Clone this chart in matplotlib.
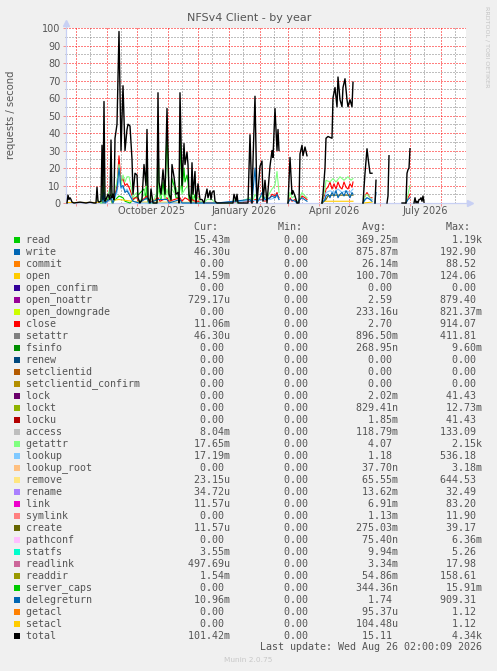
import numpy as np
import pandas as pd
import matplotlib
matplotlib.use("Agg")
import matplotlib.pyplot as plt
from matplotlib.patches import Rectangle

# ------------------------------------------------------------
# time window (munin year graph: 400 days ending at last update)
# ------------------------------------------------------------
START = pd.Timestamp("2025-07-22")
END = pd.Timestamp("2026-08-26")
nan = np.nan

# ------------------------------------------------------------
# legend table
# ------------------------------------------------------------
names = ["read", "write", "commit", "open", "open_confirm", "open_noattr",
         "open_downgrade", "close", "setattr", "fsinfo", "renew", "setclientid",
         "setclientid_confirm", "lock", "lockt", "locku", "access", "getattr",
         "lookup", "lookup_root", "remove", "rename", "link", "symlink", "create",
         "pathconf", "statfs", "readlink", "readdir", "server_caps",
         "delegreturn", "getacl", "setacl", "total"]
colors = ["#00CC00", "#0066B3", "#FF8000", "#FFCC00", "#330099", "#990099",
          "#CCFF00", "#FF0000", "#808080", "#008F00", "#00487D", "#B35A00",
          "#B38F00", "#6B006B", "#8FB300", "#B30000", "#BEBEBE", "#80FF80",
          "#80C9FF", "#FFC080", "#FFE680", "#AA80FF", "#EE00CC", "#FF8080",
          "#666600", "#FFBFFF", "#00FFCC", "#CC6699", "#999900", "#00CC00",
          "#0066B3", "#FF8000", "#FFCC00", "#000000"]
cur = ["15.43m", "46.30u", "0.00", "14.59m", "0.00", "729.17u", "0.00", "11.06m",
       "46.30u", "0.00", "0.00", "0.00", "0.00", "0.00", "0.00", "0.00", "8.04m",
       "17.65m", "17.19m", "0.00", "23.15u", "34.72u", "11.57u", "0.00", "11.57u",
       "0.00", "3.55m", "497.69u", "1.54m", "0.00", "10.96m", "0.00", "0.00",
       "101.42m"]
mins = ["0.00"] * 34
avgs = ["369.25m", "875.87m", "26.14m", "100.70m", "0.00", "2.59", "233.16u",
        "2.70", "896.50m", "268.95n", "0.00", "0.00", "0.00", "2.02m", "829.41n",
        "1.85m", "118.79m", "4.07", "1.18", "37.70n", "65.55m", "13.62m", "6.91m",
        "1.13m", "275.03m", "75.40n", "9.94m", "3.34m", "54.86m", "344.36n",
        "1.74", "95.37u", "104.48u", "15.11"]
maxs = ["1.19k", "192.90", "88.52", "124.06", "0.00", "879.40", "821.37m",
        "914.07", "411.81", "9.60m", "0.00", "0.00", "0.00", "41.43", "12.73m",
        "41.43", "133.09", "2.15k", "536.18", "3.18m", "644.53", "32.49", "83.20",
        "11.90", "39.17", "6.36m", "5.26", "17.98", "158.61", "15.91m", "909.31",
        "1.12", "1.12", "4.34k"]

# ------------------------------------------------------------
# series (day = days since START, nan = no data)
# ------------------------------------------------------------
read_day = [35, 36, 37, 38, 39, 45, 46, 53, 57, 59, 64, 78, 80, 81, 82, 91, 92, 93,
            95, 97, 99, 101, 103, 105, 106, 108, 110, 112, 113, 114, 116, 118, 119,
            121, 122, 123, 125, 126, 127, 129, 130, 134]
read_val = [0, 8, 0, 12, 0, 5, 0, 4, 3, 1, 0, 8, 2, 20, 0, 0, 40, 8,
            2, 12, 2, 42, 3, 1, 14, 10, 3, 3, 0, 38, 6, 20, 12,
            16, 12, 2, 0, 8, 1, 5, 0, 0]

open_day = [1, 30, 53, 73, 151, 152, 256, 258, 287, 288, 297, 306, 307]
open_val = [0.3, 0.3, 2, 0.5, 0.3, nan, 0, 1, 1, nan, 0, 0.5, nan]

close_day = [38, 39, 45, 47, 49, 51, 53, 55, 57, 59, 61, 63, 65, 67, 69, 71, 73,
             81, 83, 92, 94, 101, 103, 114, 116, 119, 122, 124, 126, 129, 132, 138,
             151, 184, 186, 189, 196, 199, 204, 206, 209, 211, 212, 213, 214,
             222, 224, 226, 229, 231, 234, 236, 239, 241, 242,
             256, 257, 259, 260, 262, 264, 266, 268, 270, 272, 274, 276, 278, 280,
             282, 284, 286, 287, 288, 297, 299, 301, 304, 306, 307, 340, 342, 344, 345]
close_val = [6, 0, 3, 0, 5, 10, 27, 12, 14, 10, 11, 9, 6, 2, 3, 3, 0,
             4, 0, 3, 1, 3, 1, 3, 1, 3, 2, 1, 2, 1, 1, 0,
             0, 1, 0, 2, 2, 1, 3, 5, 4, 6, 4, 3, nan,
             0, 3, 1, 2, 0, 2, 4, 3, 2, nan,
             0, 2, 5, 8, 9, 12, 8, 11, 8, 12, 9, 8, 12, 9,
             8, 11, 9, 12, nan, 0, 4, 6, 3, 3, nan, 0, 3, 5, nan]

getattr_day = [31, 35, 36, 38, 39, 45, 47, 49, 51, 53, 55, 57, 59, 61, 63, 65, 67,
               69, 71, 73, 78, 81, 83, 85, 87, 92, 94, 97, 99, 101, 103, 106, 108,
               110, 112, 114, 116, 119, 122, 124, 126, 128, 132, 134, 138, 141, 146,
               149, 167, 169, 171, 184, 186, 189, 192, 196, 199, 202, 206, 209, 211,
               212, 213, 214, 222, 224, 226, 229, 231, 234, 236, 239, 241, 242,
               256, 257, 259, 260, 264, 267, 270, 274, 278, 282, 285, 287, 288,
               297, 299, 301, 304, 306, 307, 340, 342, 344, 345]
getattr_val = [2, 0, 8, 20, 0, 10, 0, 8, 12, 22, 10, 16, 12, 15, 15, 10, 3,
               5, 6, 0, 5, 12, 0, 4, 0, 8, 3, 6, 2, 8, 2, 8, 6,
               9, 5, 10, 5, 8, 10, 4, 5, 2, 3, 1, 0, 2, 2,
               0, 0, 2, 0, 3, 0, 5, 2, 4, 3, 4, 8, 10, 18,
               12, 6, nan, 0, 6, 3, 4, 0, 3, 6, 4, 3, nan,
               0, 3, 8, 13, 12, 14, 12, 15, 13, 15, 13, 14, nan,
               0, 4, 5, 3, 2, nan, 0, 5, 10, nan]

lookup_day = [38, 39, 49, 51, 53, 55, 57, 59, 61, 63, 65, 67, 73, 151, 204, 209, 211,
              213, 214, 256, 259, 260, 264, 268, 272, 276, 280, 284, 287, 288,
              297, 301, 306, 307]
lookup_val = [4, 0, 3, 6, 14, 8, 9, 7, 8, 6, 4, 1, 0, 0, 2, 3, 4,
              2, nan, 0, 3, 6, 7, 6, 8, 6, 7, 6, 8, nan,
              0, 3, 2, nan]

create_day = [256, 260, 262, 266, 287, 288]
create_val = [0, 2, 4, 4.5, 4.5, nan]

delegreturn_day = [36, 37, 38, 39, 45, 47, 49, 51, 53, 55, 57, 59, 61, 63, 65, 67, 73,
                   81, 83, 92, 101, 103, 114, 116, 151, 184, 186, 189, 191, 194, 196,
                   199, 204, 206, 209, 211, 213, 214, 222, 224, 229, 231, 234, 236,
                   241, 242, 256, 259, 260, 262, 264, 266, 268, 270, 272, 274, 276,
                   278, 280, 282, 284, 286, 287, 288, 297, 299, 301, 304, 306, 307,
                   309, 310, 311, 340, 342, 344, 345]
delegreturn_val = [4, 0, 6, 0, 3, 0, 4, 8, 20, 9, 10, 6, 7, 5, 3, 1, 0,
                   3, 0, 2, 2, 0, 2, 0, 0, 2, 0, 20, 0, 3, 6,
                   2, 3, 4, 3, 5, 2, nan, 0, 2, 1, 0, 2, 3,
                   1, nan, 0, 2, 4, 5, 3, 6, 4, 7, 3, 5, 6,
                   4, 7, 5, 3, 6, 5, nan, 0, 2, 3, 2, 1, nan,
                   0, 6, nan, 0, 2, 3, nan]

total_day = [1, 2, 3, 4, 5, 6, 8, 14, 20, 24, 28, 30, 31, 32, 33, 35, 36, 37, 38, 39,
             40, 42, 44, 45, 46, 47, 48, 49, 51, 53, 55, 57, 59, 61, 62, 64, 66, 67,
             69, 71, 72, 74, 76, 78, 80, 81, 82, 84, 85, 87, 91, 92, 93, 95, 97, 99,
             101, 103, 105, 106, 108, 110, 112, 113, 114, 116, 118, 119, 121, 122,
             123, 125, 126, 127, 129, 130, 132, 134, 136, 138, 141, 142, 144, 145,
             146, 148, 149, 151, 167, 168, 170, 171, 172, 182, 184, 186, 187, 189,
             191, 192, 194, 196, 197, 199, 201, 202, 204, 206, 207, 209, 211, 212,
             213, 214, 222, 224, 226, 227, 229, 231, 233, 234, 236, 237, 239, 241,
             242, 256, 257, 259, 260, 262, 266, 267, 269, 271, 272, 274, 276, 277,
             279, 281, 282, 284, 286, 287, 288, 297, 299, 301, 302, 304, 306, 307,
             309, 310, 311, 321, 322, 323, 324, 336, 340, 341, 342, 343, 344, 345,
             348, 349, 350, 351, 352, 353, 354, 355, 356, 357, 358, 359]
total_val = [0, 4.5, 2, 3, 2, 0.5, 0, 0.5, 0, 0.5, 0, 0, 9, 1, 0.5, 1, 33, 2, 58, 1,
             2, 5, 2, 36, 3, 5, 2, 37, 45, 98, 30, 67, 30, 42, 45, 44, 25, 5,
             17, 16, 3, 0, 2, 22, 10, 42, 3, 0, 8, 0, 0, 63, 12, 5, 19, 5,
             54, 5, 2, 22, 15, 5, 6, 0, 63, 10, 34, 22, 29, 22,
             5, 0, 23, 5, 18, 0, 11, 2, 2, 0, 8, 3, 7, 2,
             6, 7, 1, 0, 0, 5, 1, 5, 0, 0, 39, 0, 24, 61,
             0, 7, 21, 24, 1, 13, 0, 7, 21, 30, 26, 54, 30, 42,
             30, nan, 0, 26, 5, 7, 4, 0, 0, 28, 33, 27, 32, 27,
             nan, 0, 5, 20, 37, 38, 37, 60, 66, 55, 72, 59, 55, 66,
             71, 59, 55, 59, 55, 69, nan, 0, 17, 31, 26, 17, 17, nan,
             0, 13, nan, 0, 4, 27, nan, 0, 0, 17, 19, 20, 31, nan,
             0, 3, 0, 1, 0, 2, 2, 3, 1, 4, 0.5, nan]

series = {
    "read": (read_day, read_val),
    "open": (open_day, open_val),
    "close": (close_day, close_val),
    "getattr": (getattr_day, getattr_val),
    "lookup": (lookup_day, lookup_val),
    "create": (create_day, create_val),
    "delegreturn": (delegreturn_day, delegreturn_val),
    "total": (total_day, total_val),
}

# ------------------------------------------------------------
# figure, pixel helpers
# ------------------------------------------------------------
W, H = 497, 671
BG = "#F0F0F0"
TXT = "#555555"


def fx(x):
    return x / W


def fy(y):
    return 1 - y / H


fig = plt.figure(figsize=(W / 100, H / 100), dpi=100, facecolor=BG)
left, right, top, bottom = 66, 466, 28, 203
ax = fig.add_axes([fx(left), fy(bottom), (right - left) / W, (bottom - top) / H])
ax.set_facecolor("white")

for nm, col in zip(names, colors):
    if nm not in series:
        continue
    d, v = series[nm]
    t = START + pd.to_timedelta(d, unit="D")
    ax.plot(t, v, color=col, lw=1.0 if nm == "total" else 0.8, clip_on=False,
            zorder=3)

ax.set_xlim(START, END)
ax.set_ylim(0, 100)

# grid
months = pd.date_range("2025-08-01", "2026-08-01", freq="MS")
mids = months + pd.Timedelta(days=14)
ax.set_xticks(months)
ax.set_xticks(mids, minor=True)
ax.set_yticks(np.arange(0, 101, 10))
ax.set_yticks(np.arange(5, 100, 10), minor=True)
ax.grid(True, which="major", color=(1, 0, 0, 0.3), lw=0.72, ls=(0, (1, 2)))
ax.grid(True, which="minor", color=(0.5, 0.5, 0.5, 0.35), lw=0.72, ls=(0, (1, 2)))
ax.set_axisbelow(True)
ax.set_xticklabels([])
ax.tick_params(axis="x", which="major", length=2, color=(1, 0, 0, 0.4), width=0.7)
ax.tick_params(axis="x", which="minor", length=0)
ax.tick_params(axis="y", which="major", length=2, color=(1, 0, 0, 0.4), width=0.7,
               labelsize=7, labelcolor=TXT, pad=2)
ax.tick_params(axis="y", which="minor", length=1, color=(0.6, 0.6, 0.6), width=0.7)
for s in ax.spines.values():
    s.set_visible(False)

# axis lines with arrows
AX = "#C8D0F4"
ax.plot([0, 0], [0, 1.025], color=AX, lw=0.9, transform=ax.transAxes,
        clip_on=False, zorder=2)
ax.plot([0, 1.008], [0, 0], color=AX, lw=0.9, transform=ax.transAxes,
        clip_on=False, zorder=2)
ax.plot([0], [1.03], marker="^", ms=4, color=AX, transform=ax.transAxes,
        clip_on=False, zorder=2)
ax.plot([1.01], [0], marker=">", ms=4, color=AX, transform=ax.transAxes,
        clip_on=False, zorder=2)

# month labels, centered in the month
for lab, m in [("October 2025", "2025-10-16"), ("January 2026", "2026-01-16"),
               ("April 2026", "2026-04-16"), ("July 2026", "2026-07-16")]:
    ax.text(pd.Timestamp(m), -4.5, lab, ha="center", va="center", fontsize=7,
            color=TXT, clip_on=False)

# titles
fig.text(fx(249), fy(18), "NFSv4 Client - by year", ha="center", va="center",
         fontsize=8, color=TXT)
fig.text(fx(11), fy(115), "requests / second", rotation=90, ha="center",
         va="center", fontsize=7.2, color=TXT)
fig.text(fx(487), fy(6), "RRDTOOL / TOBI OETIKER", rotation=270, ha="center",
         va="top", fontsize=4.6, color="#C4C4C4")

# legend table
MONO = "DejaVu Sans Mono"


def cell(v):
    return v if v[-1].isalpha() else v + " "


x0 = 26.5
fig.text(fx(x0), fy(227), " " * 28 + "Cur:" + " " * 10 + "Min:" + " " * 10 +
         "Avg:" + " " * 10 + "Max:", family=MONO, fontsize=7.2, color=TXT,
         ha="left", va="center")
for i, nm in enumerate(names):
    y = 240 + 12 * i
    row = f"{nm:<20}{cell(cur[i]):>14}{cell(mins[i]):>14}{cell(avgs[i]):>14}{cell(maxs[i]):>14}"
    fig.text(fx(x0), fy(y), row, family=MONO, fontsize=7.2, color=TXT,
             ha="left", va="center")
    fig.add_artist(Rectangle((fx(14), fy(y + 3)), 6 / W, 6 / H,
                             transform=fig.transFigure, facecolor=colors[i],
                             edgecolor="none"))
fig.text(fx(x0), fy(647), "Last update: Wed Aug 26 02:00:09 2026".rjust(76),
         family=MONO, fontsize=7.2, color=TXT, ha="left", va="center")
fig.text(fx(248), fy(660), "Munin 2.0.75", ha="center", va="center",
         fontsize=5.3, color="#C8C8C8")

fig.savefig("out.png", dpi=100, facecolor=BG)
